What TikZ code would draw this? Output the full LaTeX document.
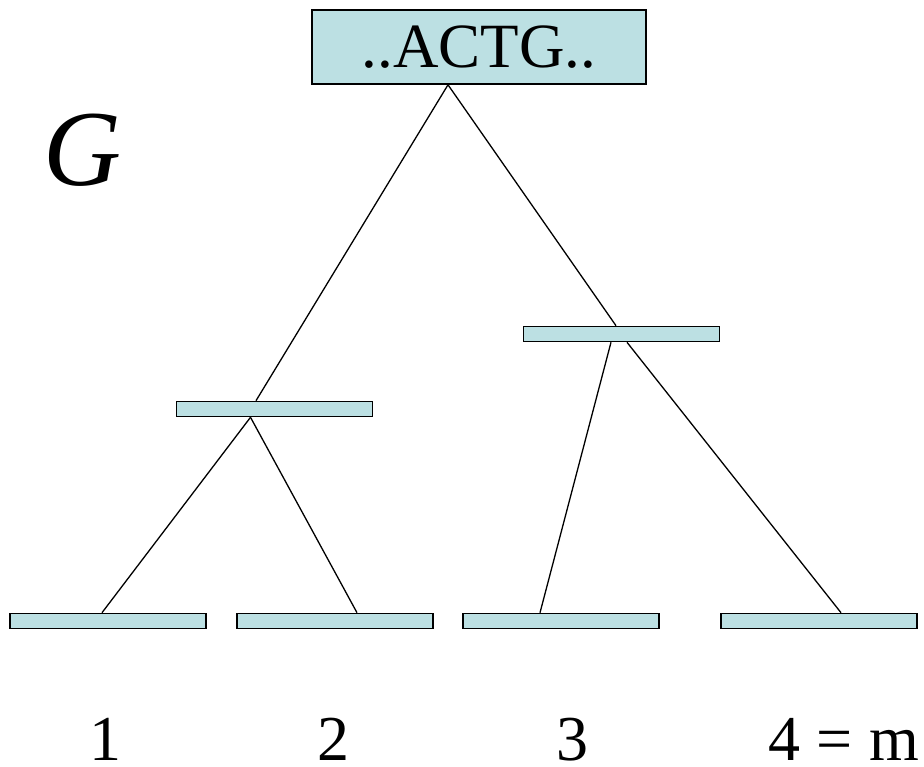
\documentclass[tikz,border=0pt]{standalone}
\usepackage{fontspec}
\setmainfont{Liberation Serif}
\definecolor{barfill}{HTML}{BCE0E3}
\begin{document}
\begin{tikzpicture}[x=1pt,y=-1pt,
  bar/.style={draw=black,fill=barfill,line width=1.6pt,minimum width=196pt,minimum height=15pt,inner sep=0pt},
  conn/.style={draw=black,line width=1.3pt},
  lab/.style={font=\fontsize{64}{64}\selectfont,inner sep=0pt,anchor=base}]
\useasboundingbox (0,0) rectangle (924,766);
\node[draw=black,fill=barfill,line width=1.6pt,minimum width=334pt,minimum height=74pt,inner sep=0pt,font=\fontsize{63}{63}\selectfont] (top) at (479,47) {\raisebox{-3pt}{..ACTG..}};
\node[font=\fontsize{108}{108}\selectfont\itshape,inner sep=0pt,anchor=base] (g) at (82,185) {G};
\node[bar] (l) at (274.5,409) {};
\node[bar] (r) at (621.5,334) {};
\node[bar] (b1) at (108,621) {};
\node[bar] (b2) at (335,621) {};
\node[bar] (b3) at (561,621) {};
\node[bar] (b4) at (819,621) {};
\draw[conn] ([xshift=-31pt]top.south) -- ([xshift=-18.5pt]l.north);
\draw[conn] ([xshift=-31pt]top.south) -- ([xshift=-5.5pt]r.north);
\draw[conn] ([xshift=-24pt]l.south) -- ([xshift=-6pt]b1.north);
\draw[conn] ([xshift=-24pt]l.south) -- ([xshift=22pt]b2.north);
\draw[conn] ([xshift=-10.5pt]r.south) -- ([xshift=-21pt]b3.north);
\draw[conn] ([xshift=5.5pt]r.south) -- ([xshift=22pt]b4.north);
\node[lab] (n1) at (105,760) {1};
\node[lab] (n2) at (333,760) {2};
\node[lab] (n3) at (572,760) {3};
\node[lab,anchor=base east] (n4) at (919,760) {4 = m};
\end{tikzpicture}
\end{document}
